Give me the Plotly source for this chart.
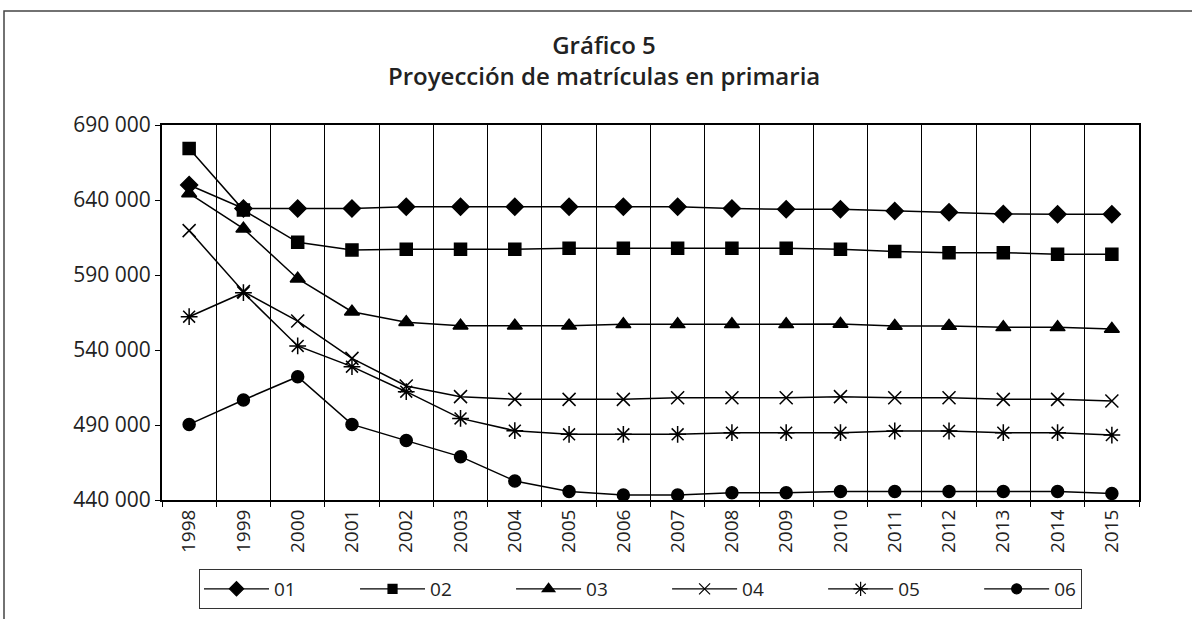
import plotly.graph_objects as go

years = [str(y) for y in range(1998, 2016)]
series_names = ["01", "02", "03", "04", "05", "06"]

s01 = [650000, 634400, 634400, 634400, 635500, 635500, 635500, 635500, 635500, 635500,
       634400, 633800, 633800, 632700, 631800, 630700, 630500, 630500]
s02 = [674400, 633300, 611800, 606700, 607100, 607100, 607100, 607800, 607800, 607800,
       607800, 607800, 607100, 605600, 604900, 604900, 603800, 603800]
s03 = [644400, 620900, 587500, 565500, 558500, 556200, 556200, 556200, 557100, 557100,
       557100, 557100, 557300, 556000, 556000, 555100, 555100, 554000]
s04 = [619600, 578900, 559300, 534400, 516000, 508900, 507100, 507100, 507100, 508200,
       508200, 508200, 508900, 508200, 508200, 507100, 507100, 506000]
s05 = [562200, 578200, 542700, 528900, 512200, 494400, 486200, 483800, 483800, 483800,
       484900, 484900, 484900, 486000, 486000, 484900, 484900, 483300]
s06 = [490400, 506700, 522200, 490400, 479600, 468900, 452700, 445600, 443300, 443300,
       444900, 444900, 445600, 445600, 445600, 445600, 445600, 444400]

values = [s01, s02, s03, s04, s05, s06]
symbols = ["diamond", "square", "triangle-up", "x-thin-open", "asterisk-open", "circle"]
sizes = [13, 12, 13, 13, 14, 12]
legend_sizes = [11, 9, 11, 11, 12, 10]

NBSP = "\u00a0"

fig = go.Figure()
for i, (name, vals, sym, sz, lsz) in enumerate(zip(series_names, values, symbols, sizes, legend_sizes)):
    fig.add_trace(go.Scatter(
        x=years, y=vals, name=name, mode="lines+markers", showlegend=False,
        legendgroup=name,
        line=dict(color="black", width=1.5),
        marker=dict(symbol=sym, size=sz, color="black",
                    line=dict(color="black", width=1.5)),
    ))
    label = name if i == len(series_names) - 1 else name + NBSP * 11
    fig.add_trace(go.Scatter(
        x=[None], y=[None], name=label, mode="lines+markers", showlegend=True,
        legendgroup=name,
        line=dict(color="black", width=1.2),
        marker=dict(symbol=sym, size=lsz, color="black",
                    line=dict(color="black", width=1.2)),
    ))

font_title = "Open Sans, Arial, sans-serif"
font_tick = "Open Sans, Arial, sans-serif"

PL, PR, PT, PB = 162, 1139, 125, 500  # plot area in page pixels
PW, PH = PR - PL, PB - PT

fig.update_layout(
    width=1192, height=619,
    margin=dict(l=PL, r=1192 - PR, t=PT, b=619 - PB, autoexpand=False),
    paper_bgcolor="white", plot_bgcolor="white",
    separators=", ",
    title=dict(
        text="Gráfico 5",
        x=604 / 1192, xanchor="center", xref="container",
        y=1 - 46 / 619, yanchor="middle", yref="container",
        font=dict(family=font_title, size=24, color="#222", weight=600),
    ),
    annotations=[dict(
        text="Proyección de matrículas en primaria",
        xref="paper", yref="paper",
        x=(604 - PL) / PW, y=(PB - 75) / PH,
        xanchor="center", yanchor="middle", showarrow=False,
        font=dict(family=font_title, size=24, color="#222", weight=600),
    )],
    showlegend=True,
    legend=dict(
        orientation="h",
        xref="container", yref="container",
        x=199 / 1192, xanchor="left",
        y=1 - 569 / 619, yanchor="top",
        bordercolor="#333", borderwidth=1,
        itemwidth=65,
        tracegroupgap=0,
        font=dict(family=font_tick, size=19, color="#222"),
    ),
    xaxis=dict(
        type="category", tickson="boundaries", range=[-0.5, 17.5],
        showgrid=True, gridcolor="black", gridwidth=1,
        showline=True, linecolor="black", linewidth=2, mirror=True,
        ticks="outside", ticklen=5, tickcolor="black",
        tickangle=-90,
        tickfont=dict(family=font_tick, size=19, color="#222"),
    ),
    yaxis=dict(
        range=[440000, 690000], tick0=440000, dtick=50000, tickformat=",d",
        showgrid=False, zeroline=False,
        showline=True, linecolor="black", linewidth=2, mirror=True,
        ticks="outside", ticklen=5, tickcolor="black",
        tickfont=dict(family=font_tick, size=21, color="#222"),
    ),
)

# outer chart-area border
fig.add_shape(
    type="rect", xref="paper", yref="paper",
    x0=(4 - PL) / PW, x1=(1196 - PL) / PW,
    y0=(PB - 640) / PH, y1=(PB - 11) / PH,
    line=dict(color="#444", width=1.5), fillcolor="rgba(0,0,0,0)",
    layer="below",
)

fig.write_html("out.html", config={"displayModeBar": False},
               post_script="document.body.style.margin='0';")
